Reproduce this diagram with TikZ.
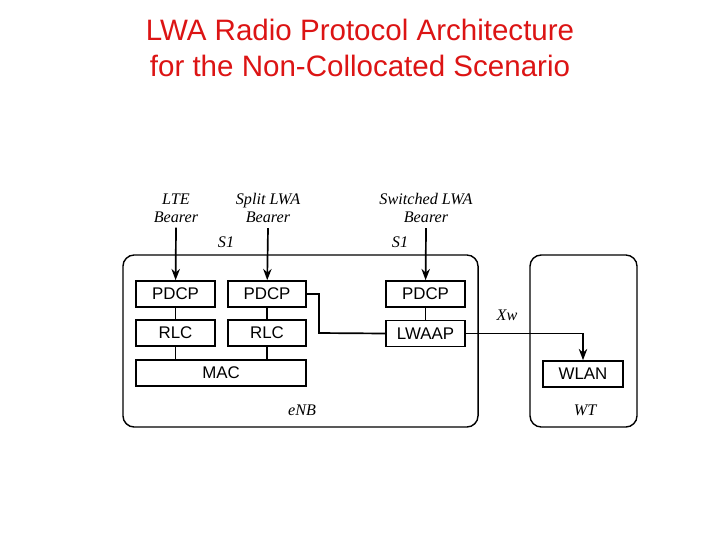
\documentclass[tikz,border=0pt]{standalone}
\usepackage{fontspec}
\setmainfont{Liberation Serif}
\setsansfont{Liberation Sans}
\usetikzlibrary{arrows.meta}
\definecolor{titlered}{RGB}{220,20,20}

\begin{document}
\begin{tikzpicture}[x=0.025cm,y=-0.025cm, line width=1.2pt,
  layernode/.style={rectangle, draw=black, line width=1.2pt, minimum height=0.65cm, font=\sffamily\fontsize{12}{13}\selectfont, inner sep=0pt},
  areanode/.style={rectangle, rounded corners=8pt, draw=black, line width=1pt, inner sep=0pt},
  tagnode/.style={font=\itshape\fontsize{11.5}{12.5}\selectfont, align=center},
  ]
\useasboundingbox (0,0) rectangle (720,540);

\node[font=\sffamily\fontsize{21}{26}\selectfont, text=titlered, align=center] (title) at (360,48) {LWA Radio Protocol Architecture\\for the Non-Collocated Scenario};

\node[areanode, minimum width=8.875cm, minimum height=4.3cm] (enb) at (300.5,341) {};
\node[areanode, minimum width=2.675cm, minimum height=4.3cm] (wt) at (583.5,341) {};

\node[layernode, minimum width=1.975cm] (pdcp1) at (175.5,294) {PDCP};
\node[layernode, minimum width=1.95cm] (pdcp2) at (267,294) {PDCP};
\node[layernode, minimum width=1.975cm] (pdcp3) at (425.5,294) {PDCP};
\node[layernode, minimum width=1.975cm] (rlc1) at (175.5,333) {RLC};
\node[layernode, minimum width=1.95cm] (rlc2) at (267,333) {RLC};
\node[layernode, minimum width=1.975cm] (lwaap) at (425.5,333.5) {LWAAP};
\node[layernode, minimum width=4.25cm] (mac) at (221,373) {MAC};
\node[layernode, minimum width=2cm] (wlan) at (583,374) {WLAN};

\node[tagnode] (lte) at (176,208) {LTE\\Bearer};
\node[tagnode] (split) at (268,208) {Split LWA\\Bearer};
\node[tagnode] (switched) at (426,208) {Switched LWA\\Bearer};
\node[tagnode] (s1a) at (226,242) {S1};
\node[tagnode] (s1b) at (400,242) {S1};
\node[tagnode] (xw) at (507,315) {Xw};
\node[tagnode] (enblabel) at (302,410) {eNB};
\node[tagnode] (wtlabel) at (585,410) {WT};

\draw[-{Stealth[length=8pt]}] (lte.south) -- (pdcp1);
\draw[-{Stealth[length=8pt]}] (split.south) -- (pdcp2);
\draw[-{Stealth[length=8pt]}] (switched.south) -- (pdcp3);
\draw (pdcp1) -- (rlc1);
\draw (pdcp2) -- (rlc2);
\draw (pdcp3) -- (lwaap);
\draw (rlc1) -- (rlc1 |- mac.north);
\draw (rlc2) -- (rlc2 |- mac.north);
\draw (pdcp2.east) -| (319,333) -- (lwaap.west);
\draw[-{Stealth[length=8pt]}] (lwaap.east) -| (wlan.north);

\end{tikzpicture}
\end{document}
